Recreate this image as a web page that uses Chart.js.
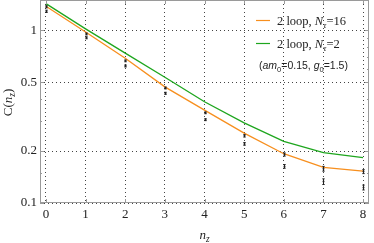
<!DOCTYPE html>
<html>
<head>
<meta charset="utf-8">
<script src="https://cdn.jsdelivr.net/npm/chart.js@4"></script>
<style>
  html, body { margin: 0; padding: 0; background: #fff; }
</style>
</head>
<body>
<canvas id="chart" width="374" height="243"></canvas>
<script>
// values
const nz = [0, 1, 2, 3, 4, 5, 6, 7, 8];
const loopNt16 = [1.38, 0.978, 0.690, 0.471, 0.345, 0.254, 0.193, 0.161, 0.153];
const loopNt2 = [1.43, 1.02, 0.738, 0.535, 0.386, 0.291, 0.2275, 0.196, 0.183];
const simUpper = [1.37, 0.953, 0.666, 0.464, 0.333, 0.245, 0.191, 0.158, 0.152];
const simUpperErr = [0.02, 0.012, 0.008, 0.006, 0.004, 0.004, 0.004, 0.005, 0.004];
const simLower = [1.29, 0.906, 0.622, 0.432, 0.304, 0.220, 0.163, 0.133, 0.123];
const simLowerErr = [0.02, 0.012, 0.008, 0.006, 0.004, 0.004, 0.004, 0.005, 0.004];
const yMajor = [0.1, 0.2, 0.5, 1];
const yMinor = [0.15, 0.3, 0.4, 0.6, 0.7, 0.8, 0.9, 1.5];
const noteText = ['(', 'am', '0', '=0.15, ', 'g', '0', '=1.5)'];

const ORANGE = '#f78f1e';
const GREEN = '#1ea61e';
const SERIF = '"Liberation Serif", "DejaVu Serif", serif';
const SANS = '"Liberation Sans", Arial, sans-serif';

const pts = arr => nz.map((x, i) => ({ x: x, y: arr[i] }));

// draws a run of text pieces: [text, italic, subscript]
function drawRich(ctx, parts, x, y, size, family) {
  parts.forEach(p => {
    const sub = p[2];
    const fs = sub ? size * 0.72 : size;
    ctx.font = (p[1] ? 'italic ' : '') + fs + 'px ' + family;
    ctx.fillText(p[0], x, y + (sub ? size * 0.25 : 0));
    x += ctx.measureText(p[0]).width;
  });
  return x;
}

const decorPlugin = {
  id: 'decor',
  afterDatasetsDraw(chart) {
    const ctx = chart.ctx;
    const area = chart.chartArea;
    const xs = chart.scales.x, ys = chart.scales.y;
    ctx.save();

    // error bars for the simulation points
    chart.data.datasets.forEach(ds => {
      if (!ds.errors) return;
      ctx.strokeStyle = '#222';
      ctx.fillStyle = '#222';
      ctx.lineWidth = 1;
      ds.data.forEach((p, i) => {
        const px = Math.round(xs.getPixelForValue(p.x)) + 0.5;
        const top = ys.getPixelForValue(p.y + ds.errors[i]);
        const bot = ys.getPixelForValue(p.y - ds.errors[i]);
        const py = ys.getPixelForValue(p.y);
        ctx.beginPath();
        ctx.moveTo(px, top); ctx.lineTo(px, bot);
        ctx.moveTo(px - 1.2, top); ctx.lineTo(px + 1.2, top);
        ctx.moveTo(px - 1.2, bot); ctx.lineTo(px + 1.2, bot);
        ctx.stroke();
        ctx.beginPath();
        ctx.arc(px, py, 1, 0, Math.PI * 2);
        ctx.fill();
      });
    });

    // frame and inward ticks
    ctx.strokeStyle = '#9a9a9a';
    ctx.lineWidth = 1;
    ctx.strokeRect(area.left + 0.5, area.top + 0.5, area.right - area.left - 1, area.bottom - area.top - 1);
    ctx.beginPath();
    nz.forEach(v => {
      const px = Math.round(xs.getPixelForValue(v)) + 0.5;
      ctx.moveTo(px, area.bottom); ctx.lineTo(px, area.bottom - 4);
      ctx.moveTo(px, area.top); ctx.lineTo(px, area.top + 4);
    });
    yMajor.concat(yMinor).forEach(v => {
      const len = yMajor.includes(v) ? 4 : 2;
      const py = Math.round(ys.getPixelForValue(v)) + 0.5;
      ctx.moveTo(area.left, py); ctx.lineTo(area.left + len, py);
      ctx.moveTo(area.right, py); ctx.lineTo(area.right - len, py);
    });
    ctx.stroke();

    // legend
    ctx.fillStyle = '#222';
    ctx.textBaseline = 'alphabetic';
    ctx.textAlign = 'left';
    [0, 1].forEach((di, k) => {
      const ds = chart.data.datasets[di];
      const ly = 20.5 + k * 23;
      ctx.strokeStyle = ds.borderColor;
      ctx.lineWidth = 1.2;
      ctx.beginPath();
      ctx.moveTo(256, ly); ctx.lineTo(270, ly);
      ctx.stroke();
      drawRich(ctx, [['2 loop, ', false, false], ['N', true, false], ['τ', true, true], ['=' + ds.nt, false, false]],
        277, ly + 4.5, 12.5, SERIF);
    });
    drawRich(ctx, [
      [noteText[0], false, false], [noteText[1], true, false], [noteText[2], false, true],
      [noteText[3], false, false], [noteText[4], true, false], [noteText[5], false, true],
      [noteText[6], false, false]
    ], 259, 69, 10.5, SANS);

    // axis titles
    drawRich(ctx, [['n', true, false], ['z', true, true]], (area.left + area.right) / 2 - 5, 239, 13, SERIF);
    ctx.translate(12, (area.top + area.bottom) / 2);
    ctx.rotate(-Math.PI / 2);
    ctx.font = '13px ' + SERIF;
    const w = ctx.measureText('C(').width + ctx.measureText(')').width + 12;
    drawRich(ctx, [['C(', false, false], ['n', true, false], ['z', true, true], [')', false, false]], -w / 2, 0, 13, SERIF);
    ctx.restore();
  }
};

new Chart(document.getElementById('chart'), {
  type: 'line',
  data: {
    datasets: [
      { label: '2 loop, Nτ=16', nt: 16, data: pts(loopNt16), borderColor: ORANGE, borderWidth: 1.3, pointRadius: 0, tension: 0 },
      { label: '2 loop, Nτ=2', nt: 2, data: pts(loopNt2), borderColor: GREEN, borderWidth: 1.3, pointRadius: 0, tension: 0 },
      { label: 'upper', data: pts(simUpper), errors: simUpperErr, showLine: false, pointRadius: 0 },
      { label: 'lower', data: pts(simLower), errors: simLowerErr, showLine: false, pointRadius: 0 }
    ]
  },
  options: {
    responsive: false,
    animation: false,
    devicePixelRatio: 1,
    layout: { padding: { top: 0, right: 5, left: 0, bottom: 0 } },
    plugins: { legend: { display: false }, tooltip: { enabled: false } },
    scales: {
      x: {
        type: 'linear',
        min: -0.15,
        max: 8.15,
        afterBuildTicks: s => { s.ticks = nz.map(v => ({ value: v })); },
        afterFit: s => { s.height = 40; s.paddingLeft = 0; s.paddingRight = 0; },
        ticks: { font: { family: SERIF, size: 13 }, color: '#222', padding: 4 },
        grid: { color: '#444', lineWidth: 1, drawTicks: false },
        border: { display: false, dash: [1, 3] }
      },
      y: {
        type: 'logarithmic',
        bounds: 'data',
        min: 0.1,
        max: 1.5,
        afterBuildTicks: s => { s.ticks = yMajor.map(v => ({ value: v })); },
        afterFit: s => { s.width = 40; s.paddingTop = 0; s.paddingBottom = 0; },
        ticks: { font: { family: SERIF, size: 13 }, color: '#222', padding: 3, callback: v => String(v) },
        grid: { color: '#444', lineWidth: 1, drawTicks: false },
        border: { display: false, dash: [1, 3] }
      }
    }
  },
  plugins: [decorPlugin]
});
</script>
</body>
</html>
